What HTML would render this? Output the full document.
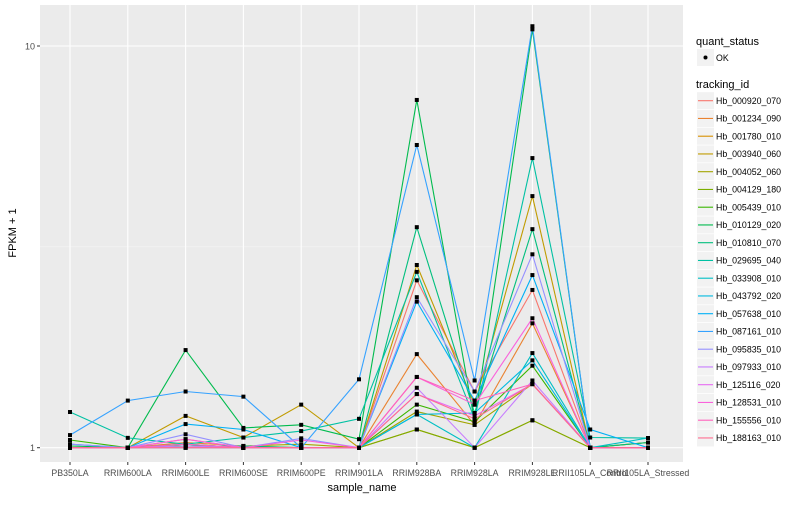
<!DOCTYPE html>
<html><head><meta charset="utf-8"><style>
body{margin:0;background:#fff;}
svg text{font-family:"Liberation Sans",sans-serif;}
</style></head><body>
<svg id="chart" width="800" height="500" xmlns="http://www.w3.org/2000/svg">
<rect width="800" height="500" fill="#fff"/>
<rect x="40" y="5" width="643" height="457" fill="#EBEBEB"/>
<g id="grid"></g><g id="lines"></g><g id="pts"></g><g id="axes"></g><g id="legend"></g>
</svg>
<script>
const categories=["PB350LA","RRIM600LA","RRIM600LE","RRIM600SE","RRIM600PE","RRIM901LA","RRIM928BA","RRIM928LA","RRIM928LE","RRII105LA_Control","RRII105LA_Stressed"];
const seriesNames=["Hb_000920_070","Hb_001234_090","Hb_001780_010","Hb_003940_060","Hb_004052_060","Hb_004129_180","Hb_005439_010","Hb_010129_020","Hb_010810_070","Hb_029695_040","Hb_033908_010","Hb_043792_020","Hb_057638_010","Hb_087161_010","Hb_095835_010","Hb_097933_010","Hb_125116_020","Hb_128531_010","Hb_155556_010","Hb_188163_010"];
const colors=["#F8766D","#EA8331","#D89000","#C09B00","#A3A500","#7CAE00","#39B600","#00BB4E","#00BF7D","#00C1A3","#00BFC4","#00BAE0","#00B0F6","#35A2FF","#9590FF","#C77CFF","#E76BF3","#FA62DB","#FF62BC","#FF6C90"];
const s00=[1,1,1.05,1,1,1,2.61,1.38,2.47,1,1];
const s01=[1,1,1.03,1.01,1,1,1.71,1.14,2.04,1,1];
const s02=[1,1,1.01,1,1,1,1.11,1.0,1.17,1,1];
const s03=[1,1,1.20,1.06,1.28,1,2.85,1.28,4.23,1,1.03];
const s04=[1,1,1.01,1.01,1.02,1,1.23,1.14,1.44,1,1.03];
const s05=[1,1,1,1,1,1,1.11,1,1.17,1,1];
const s06=[1.045,1,1.02,1,1,1,1.28,1.16,1.60,1,1];
const s07=[1.01,1,1.75,1.12,1.14,1.05,7.34,1.16,11.0,1,1];
const s08=[1,1,1.01,1.01,1,1,3.54,1.22,3.50,1,1.03];
const s09=[1.227,1.058,1.02,1.06,1.10,1.18,2.74,1.18,5.26,1.06,1.057];
const s10=[1,1,1,1,1,1,1.21,1,1.72,1,1.057];
const s11=[1,1,1.02,1,1,1,1.21,1.22,1.65,1,1];
const s12=[1.02,1,1.145,1.11,1,1,2.31,1.31,2.69,1.11,1.0];
const s13=[1.075,1.31,1.38,1.34,1.0,1.48,5.67,1.47,11.2,1.0,1.0];
const s14=[1.02,1,1.08,1,1.055,1,2.37,1.38,3.03,1,1];
const s15=[1,1,1.01,1,1,1,1.41,1,1.47,1,1];
const s16=[1,1,1,1,1,1,1.36,1.2,1.44,1,1];
const s17=[1,1,1.05,1,1.045,1,1.50,1.28,2.10,1,1];
const s18=[1,1,1.02,1,1,1,1.50,1.31,1.44,1,1];
const s19=[1,1,1,1,1,1,1.36,1.18,1.44,1,1];
const series=[s00,s01,s02,s03,s04,s05,s06,s07,s08,s09,s10,s11,s12,s13,s14,s15,s16,s17,s18,s19];
const yTicks=[1,10];
const NS="http://www.w3.org/2000/svg";
function X(i){return 70+57.8*i;}
function Y(v){return 447.7-401.7*Math.log10(v);}
function mk(tag,attrs,parent,txt){const e=document.createElementNS(NS,tag);for(const k in attrs)e.setAttribute(k,attrs[k]);if(txt!==undefined)e.textContent=txt;parent.appendChild(e);return e;}
const grid=document.getElementById('grid'),lines=document.getElementById('lines'),pts=document.getElementById('pts'),axes=document.getElementById('axes'),leg=document.getElementById('legend');
// minor grid
[Y(Math.sqrt(10))].forEach(y=>{const g=mk('line',{x1:40,x2:683,y1:y,y2:y,stroke:'#F5F5F5','stroke-width':0.6},grid);

});
yTicks.forEach(v=>{const g=mk('line',{x1:40,x2:683,y1:Y(v),y2:Y(v),stroke:'#fff','stroke-width':1.1},grid);


const t=mk('text',{x:35,y:Y(v)+3.5,'text-anchor':'end','font-size':9,fill:'#4D4D4D'},axes,String(v));


const tk=mk('line',{x1:37,x2:40,y1:Y(v),y2:Y(v),stroke:'#333'},axes);

});
categories.forEach((c,i)=>{const g=mk('line',{x1:X(i),x2:X(i),y1:5,y2:462,stroke:'#fff','stroke-width':1.1},grid);


const tk=mk('line',{x1:X(i),x2:X(i),y1:462,y2:465,stroke:'#333'},axes);


const t=mk('text',{x:X(i),y:476,'text-anchor':'middle','font-size':8.8,fill:'#4D4D4D'},axes,c);

});
series.forEach((s,k)=>{const d=s.map((v,i)=>(i?'L':'M')+X(i).toFixed(1)+' '+Y(v).toFixed(1)).join(' ');
const p=mk('path',{d:d,fill:'none',stroke:colors[k],'stroke-width':1.1},lines);


s.forEach((v,i)=>{const r=mk('rect',{x:X(i)-2,y:Y(v)-2,width:4,height:4,fill:'#000'},pts);

});});
let t=mk('text',{x:362,y:491,'text-anchor':'middle','font-size':11,fill:'#000'},axes,'sample_name');


t=mk('text',{x:0,y:0,transform:'translate(16,233) rotate(-90)','text-anchor':'middle','font-size':11,fill:'#000'},axes,'FPKM + 1');


// legend
t=mk('text',{x:696,y:45,'font-size':11,fill:'#000'},leg,'quant_status');


let b=mk('rect',{x:697,y:49,width:17,height:17,fill:'#F2F2F2'},leg);


b=mk('circle',{cx:705.5,cy:57.5,r:2,fill:'#000'},leg);


t=mk('text',{x:716,y:61,'font-size':8.8,fill:'#000'},leg,'OK');


t=mk('text',{x:696,y:88,'font-size':11,fill:'#000'},leg,'tracking_id');


seriesNames.forEach((n,k)=>{const cy=100.7+k*17.75;
const bx=mk('rect',{x:697,y:cy-8.5,width:17,height:17,fill:'#F2F2F2'},leg);


const l=mk('line',{x1:698,x2:713,y1:cy,y2:cy,stroke:colors[k],'stroke-width':1.1},leg);


const tx=mk('text',{x:716,y:cy+3.2,'font-size':8.8,fill:'#000'},leg,n);

});
</script>
</body></html>
